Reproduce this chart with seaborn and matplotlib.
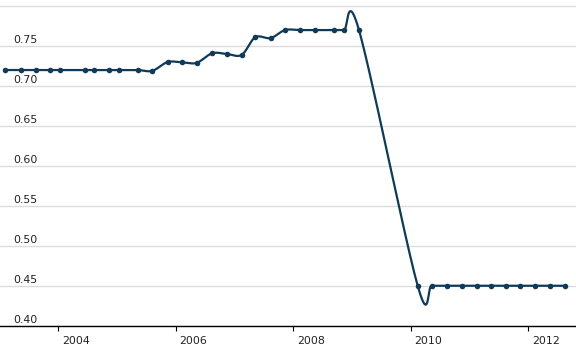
import numpy as np
import pandas as pd
import matplotlib
matplotlib.use("Agg")
import matplotlib.pyplot as plt
import matplotlib.transforms as mtransforms
import seaborn as sns

# ---- data ----
years = [2003.098, 2003.365, 2003.620, 2003.859, 2004.029, 2004.455, 2004.608,
         2004.863, 2005.033, 2005.351, 2005.600, 2005.862, 2006.114, 2006.356,
         2006.621, 2006.871, 2007.122, 2007.353, 2007.615, 2007.859, 2008.114,
         2008.370, 2008.693, 2008.863, 2009.118, 2010.117, 2010.356, 2010.611,
         2010.866, 2011.122, 2011.365, 2011.621, 2011.860, 2012.115, 2012.370,
         2012.625]
values = [0.72, 0.72, 0.72, 0.72, 0.72, 0.72, 0.72,
          0.72, 0.72, 0.72, 0.719, 0.73, 0.7295, 0.729,
          0.741, 0.740, 0.739, 0.761, 0.760, 0.77, 0.77,
          0.77, 0.77, 0.77, 0.77, 0.45, 0.45, 0.45,
          0.45, 0.45, 0.45, 0.45, 0.45, 0.45, 0.45,
          0.45]
x_ticks = [2004, 2006, 2008, 2010, 2012]
x_tick_labels = ["2004", "2006", "2008", "2010", "2012"]
y_grid = [0.40, 0.45, 0.50, 0.55, 0.60, 0.65, 0.70, 0.75, 0.80]
y_tick_labels = ["0.40", "0.45", "0.50", "0.55", "0.60", "0.65", "0.70", "0.75"]

LINE = "#0f3a58"
TEXT = "#222222"


def catmull_rom(x, y, n=24):
    P = np.column_stack([x, y]).astype(float)
    P = np.vstack([P[0], P, P[-1]])
    t = np.linspace(0, 1, n)[:, None]
    h00 = 2 * t**3 - 3 * t**2 + 1
    h10 = t**3 - 2 * t**2 + t
    h01 = -2 * t**3 + 3 * t**2
    h11 = t**3 - t**2
    segs = []
    for i in range(1, len(P) - 2):
        p0, p1, p2, p3 = P[i - 1], P[i], P[i + 1], P[i + 2]
        m1 = (p2 - p0) / 2
        m2 = (p3 - p1) / 2
        seg = h00 * p1 + h10 * m1 + h01 * p2 + h11 * m2
        segs.append(seg if i == 1 else seg[1:])
    S = np.vstack(segs)
    return S[:, 0], S[:, 1]


sns.set_style("white")
plt.rcParams["font.family"] = ["DejaVu Sans"]

fig = plt.figure(figsize=(5.76, 3.54), dpi=100)
ax = fig.add_axes([0, 1 - 325.7 / 354, 1, 325.7 / 354])

df_pts = pd.DataFrame({"year": years, "value": values})
sx, sy = catmull_rom(years, values)
df_curve = pd.DataFrame({"year": sx, "value": sy, "i": np.arange(len(sx))})

# gridlines
for g in y_grid:
    ax.axhline(g, color="#dcdcdc", lw=1.0, zorder=0)

sns.lineplot(data=df_curve, x="year", y="value", sort=False, estimator=None,
             color=LINE, lw=1.6, ax=ax, zorder=3)
sns.scatterplot(data=df_pts, x="year", y="value", color=LINE, s=16,
                linewidth=0, ax=ax, zorder=4)

ax.set_xlim(2004 - 58.3 / 58.75, 2004 + (576 - 58.3) / 58.75)
ax.set_ylim(0.40, 0.40 + 325.7 / 799)
ax.set_xlabel("")
ax.set_ylabel("")

for s in ["left", "right", "top"]:
    ax.spines[s].set_visible(False)
ax.spines["bottom"].set_color("black")
ax.spines["bottom"].set_linewidth(1.0)
ax.spines["bottom"].set_zorder(5)

ax.set_xticks(x_ticks)
ax.set_xticklabels(x_tick_labels)
ax.tick_params(axis="x", direction="out", length=3.6, width=0.8, color="black",
               pad=3.5, labelsize=7.9, labelcolor=TEXT, bottom=True)
off = mtransforms.ScaledTranslation(3.5 / 100, 0, fig.dpi_scale_trans)
for lab in ax.get_xticklabels():
    lab.set_horizontalalignment("left")
    lab.set_transform(lab.get_transform() + off)

ax.set_yticks([])
ytr = ax.get_yaxis_transform() + mtransforms.ScaledTranslation(13 / 100, 3 / 100, fig.dpi_scale_trans)
for v, lab in zip(y_grid, y_tick_labels):
    ax.text(0, v, lab, transform=ytr, ha="left", va="baseline",
            fontsize=7.9, color=TEXT, zorder=6)

fig.savefig("out.png", dpi=100)
